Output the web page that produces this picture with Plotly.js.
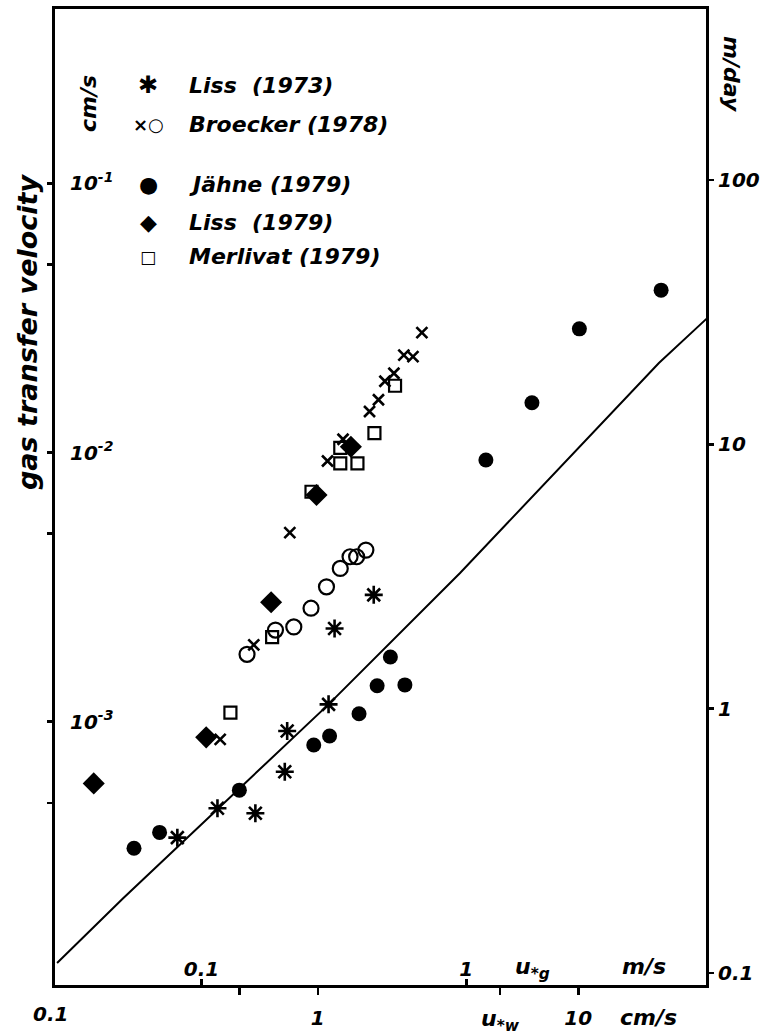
<!DOCTYPE html>
<html><head><meta charset="utf-8">
<script src="https://cdn.plot.ly/plotly-3.0.1.min.js"></script>
<style>html,body{margin:0;padding:0;background:#fff}</style>
</head><body><div id="chart" style="width:766px;height:1035px"></div>
<script>
// friction velocity u*w (cm/s) and gas transfer velocity k (cm/s)
const liss73U = [0.289, 0.412, 0.576, 0.747, 0.763, 1.10, 1.16, 1.64];
const liss73K = [3.71e-4, 4.77e-4, 4.57e-4, 6.52e-4, 9.24e-4, 1.16e-3, 2.22e-3, 2.96e-3];

const broeckerXU = [0.422, 0.568, 0.781, 1.09, 1.25, 1.58, 1.71, 1.81, 1.96, 2.14, 2.32, 2.51];
const broeckerXK = [8.60e-4, 1.93e-3, 5.04e-3, 9.30e-3, 0.0112, 0.0142, 0.0157, 0.0184, 0.0197, 0.0230, 0.0227, 0.0279];

const broeckerOU = [0.535, 0.688, 0.809, 0.942, 1.08, 1.22, 1.33, 1.41, 1.53];
const broeckerOK = [1.78e-3, 2.19e-3, 2.25e-3, 2.64e-3, 3.17e-3, 3.71e-3, 4.10e-3, 4.10e-3, 4.34e-3];

const jahneU = [0.197, 0.247, 0.500, 0.965, 1.11, 1.44, 1.69, 2.16, 1.90, 4.42, 6.64, 10.1, 20.8];
const jahneK = [3.39e-4, 3.88e-4, 5.57e-4, 8.19e-4, 8.85e-4, 1.07e-3, 1.36e-3, 1.37e-3, 1.74e-3, 9.38e-3, 0.0153, 0.0288, 0.0401];

const liss79U = [0.138, 0.373, 0.662, 0.989, 1.34];
const liss79K = [5.90e-4, 8.75e-4, 2.78e-3, 6.95e-3, 0.0105];

const merlivatU = [0.462, 0.668, 0.946, 1.22, 1.22, 1.42, 1.65, 1.98];
const merlivatK = [1.08e-3, 2.06e-3, 7.15e-3, 0.0104, 9.12e-3, 9.12e-3, 0.0118, 0.0177];

const lineU = [0.0998, 0.179, 1.10, 3.51, 20.4, 31.3];
const lineK = [1.27e-4, 2.21e-4, 1.16e-3, 3.56e-3, 0.0215, 0.0316];

// axis ticks
const xTickVals = [0.1, 0.5, 1, 5, 10];
const xTickText = ['', '', '1', '', '10'];
const xEdgeLabel = '0.1';
const yTickVals = [1e-3, 1e-2, 1e-1];
const yTickText = ['10<sup>-3</sup>', '10<sup>-2</sup>', '10<sup>-1</sup>'];
const yMinorVals = [5e-4, 5e-3, 5e-2];
const mdayTickVals = [0.1, 1, 10, 100];
const mdayTickText = ['0.1', '1', '10', '100'];
const ugTickVals = [0.1, 1];
const ugTickText = ['0.1', '1'];

const legendNames = ['Liss  (1973)', 'Broecker (1978)', 'Jähne (1979)', 'Liss  (1979)', 'Merlivat (1979)'];
const legendGlyphs = ['✱', '×○', '●', '◆', '□'];

const FONT = 'DejaVu Sans';
const W = 766, H = 1035, ML = 55, MR = 60, MT = 9, MB = 50;
const PW = W - ML - MR, PH = H - MT - MB;
const px = x => (x - ML) / PW;
const py = y => 1 - (y - MT) / PH;
const tf = (s) => ({family: FONT, size: s, color: '#000', weight: 'bold', style: 'italic'});

const traces = [
  {x: lineU, y: lineK, mode: 'lines', line: {color: '#000', width: 2}, showlegend: false, hoverinfo: 'skip'},
  {x: liss73U, y: liss73K, mode: 'markers', name: 'Liss (1973)',
   marker: {symbol: 'asterisk-open', size: 15, color: '#000', line: {color: '#000', width: 2.6}}},
  {x: broeckerXU, y: broeckerXK, mode: 'markers', name: 'Broecker (1978)',
   marker: {symbol: 'x-thin-open', size: 11, color: '#000', line: {color: '#000', width: 2.6}}},
  {x: broeckerOU, y: broeckerOK, mode: 'markers', name: 'Broecker (1978)',
   marker: {symbol: 'circle-open', size: 15, color: '#000', line: {color: '#000', width: 2.2}}},
  {x: merlivatU, y: merlivatK, mode: 'markers', name: 'Merlivat (1979)',
   marker: {symbol: 'square-open', size: 12, color: '#000', line: {color: '#000', width: 2.2}}},
  {x: jahneU, y: jahneK, mode: 'markers', name: 'Jähne (1979)',
   marker: {symbol: 'circle', size: 15, color: '#000'}},
  {x: liss79U, y: liss79K, mode: 'markers', name: 'Liss (1979)',
   marker: {symbol: 'diamond', size: 17, color: '#000'}},
  {x: [], y: [], xaxis: 'x', yaxis: 'y2', showlegend: false},
  {x: [], y: [], xaxis: 'x3', yaxis: 'y', showlegend: false}
];

const legendY = [85, 125, 185, 222, 257];
const glyphSize = [24, 18, 22, 22, 17];
const annotations = [];
legendNames.forEach((t, i) => {
  annotations.push({text: t, x: px(187), y: py(legendY[i]), xref: 'paper', yref: 'paper',
    xanchor: 'left', yanchor: 'middle', showarrow: false, font: tf(22)});
  annotations.push({text: legendGlyphs[i], x: px(148), y: py(legendY[i]), xref: 'paper', yref: 'paper',
    xanchor: 'center', yanchor: 'middle', showarrow: false,
    font: {family: FONT, size: glyphSize[i], color: '#000', weight: 'bold'}});
});
const extra = [
  ['gas transfer velocity', 27, 332, -90, 27],
  ['cm/s', 88, 104, -90, 22],
  ['m/day', 732, 75, 90, 22],
  [xEdgeLabel, 50, 1014, 0, 20],
  ['u<sub>*w</sub>', 500, 1020, 0, 22],
  ['cm/s', 648, 1017, 0, 22],
  ['u<sub>*g</sub>', 532, 968, 0, 22],
  ['m/s', 644, 966, 0, 22]
];
extra.forEach(e => annotations.push({text: e[0], x: px(e[1]), y: py(e[2]), xref: 'paper', yref: 'paper',
  xanchor: 'center', yanchor: 'middle', textangle: e[3], showarrow: false, font: tf(e[4])}));

const layout = {
  width: W, height: H,
  margin: {l: ML, r: MR, t: MT, b: MB, pad: 0},
  paper_bgcolor: '#fff', plot_bgcolor: '#fff',
  showlegend: false,
  xaxis: {type: 'log', range: [-1.0088, 1.4904], showgrid: false, zeroline: false,
    showline: true, linewidth: 3, linecolor: '#000', mirror: true,
    tickmode: 'array', tickvals: xTickVals, ticktext: xTickText,
    ticks: 'outside', ticklen: 7, tickwidth: 2.5, tickcolor: '#000',
    ticklabelstandoff: 6, tickfont: tf(20)},
  xaxis3: {type: 'log', overlaying: 'x', side: 'bottom', anchor: 'y',
    range: [-1.553, 0.9053], showgrid: false, zeroline: false, showline: false,
    tickmode: 'array', tickvals: ugTickVals, ticktext: ugTickText,
    ticks: 'inside', ticklen: 6, tickwidth: 2.5, tickcolor: '#000',
    ticklabelposition: 'inside', tickfont: tf(20)},
  yaxis: {type: 'log', range: [-3.978, -0.3525], showgrid: false, zeroline: false,
    showline: true, linewidth: 3, linecolor: '#000',
    tickmode: 'array', tickvals: yTickVals, ticktext: yTickText,
    ticks: 'outside', ticklen: 5, tickwidth: 2.5, tickcolor: '#000',
    minor: {tickmode: 'array', tickvals: yMinorVals, ticks: 'outside', ticklen: 5, tickwidth: 2.5, tickcolor: '#000', showgrid: false},
    ticklabelposition: 'inside', ticklabelstandoff: 16, tickfont: tf(20)},
  yaxis2: {type: 'log', overlaying: 'y', side: 'right', anchor: 'x',
    range: [-1.0458, 2.647], showgrid: false, zeroline: false,
    showline: true, linewidth: 3, linecolor: '#000',
    tickmode: 'array', tickvals: mdayTickVals, ticktext: mdayTickText,
    ticks: 'outside', ticklen: 5, tickwidth: 2.5, tickcolor: '#000', tickfont: tf(20)},
  annotations: annotations
};

Plotly.newPlot('chart', traces, layout, {displayModeBar: false, staticPlot: true});
</script></body></html>
